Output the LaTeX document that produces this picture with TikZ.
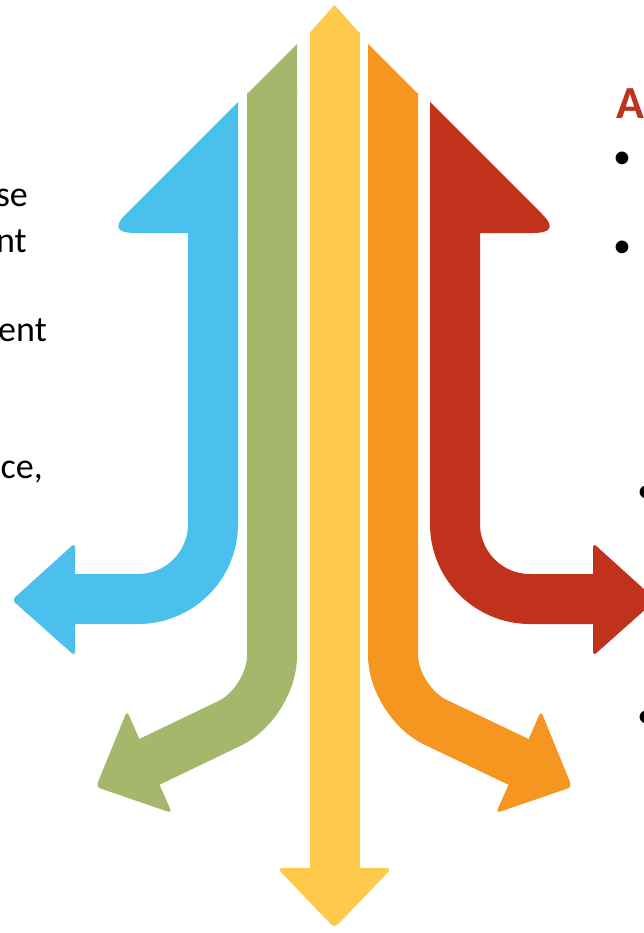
\documentclass[tikz,border=0pt]{standalone}
\usepackage{fontspec}
\setmainfont{Carlito}
\usetikzlibrary{calc}
\definecolor{arrBlue}{RGB}{76,192,237}
\definecolor{arrGreen}{RGB}{164,183,106}
\definecolor{arrYellow}{RGB}{255,201,76}
\definecolor{arrOrange}{RGB}{245,150,33}
\definecolor{arrRed}{RGB}{192,50,27}
\definecolor{paleHead}{RGB}{244,222,205}
\tikzset{
	shaft/.style={line width=50pt},
	bodytxt/.style={inner sep=0pt, font=\fontsize{36}{44}\selectfont},
	headtxt/.style={inner sep=0pt, font=\bfseries\fontsize{46}{54}\selectfont}
}

\begin{document}
\begin{tikzpicture}[x=1pt, y=-1pt]
		%%%%% START %%%%%
		
		\useasboundingbox (0, 0) rectangle (644, 933);
		\clip (0, 0) rectangle (644, 933);
		
		% blue, up and out to the left
		\fill[arrBlue] (238, 102) -- (126, 214) .. controls (112, 228) and (118, 233) .. (136, 233) -- (238, 233) -- cycle;
		\draw[shaft, arrBlue, rounded corners=75pt] (213, 232) -- (213, 599) -- (73, 599);
		\fill[arrBlue, rounded corners=4pt] (75, 543) -- (12, 600) -- (75, 656) -- cycle;
		
		% green
		\fill[arrGreen] (247, 94) -- (297, 44) -- (297, 94) -- cycle;
		\draw[shaft, arrGreen, rounded corners=47pt] (272, 93) -- (272, 703) -- (147, 763);
		\fill[arrGreen, rounded corners=4pt] (127, 711) -- (96, 787) -- (172, 813) -- cycle;
		
		% yellow, both ways
		\fill[arrYellow] (309.5, 33) -- (334.5, 5) -- (359.5, 33) -- cycle;
		\draw[shaft, arrYellow] (334.5, 32) -- (334.5, 870);
		\fill[arrYellow, rounded corners=5pt] (277, 868) -- (334.5, 928) -- (392, 868) -- cycle;
		
		% orange
		\fill[arrOrange] (368, 44) -- (418, 94) -- (368, 94) -- cycle;
		\draw[shaft, arrOrange, rounded corners=47pt] (393, 93) -- (393, 702) -- (521, 763);
		\fill[arrOrange, rounded corners=4pt] (541, 711) -- (572, 787) -- (496, 813) -- cycle;
		
		% red, up and out to the right
		\fill[arrRed] (430, 102) -- (542, 214) .. controls (556, 228) and (550, 233) .. (532, 233) -- (430, 233) -- cycle;
		\draw[shaft, arrRed, rounded corners=75pt] (455, 232) -- (455, 599) -- (595, 599);
		\fill[arrRed, rounded corners=4pt] (593, 543) -- (656, 600) -- (593, 656) -- cycle;
		
		% text cut by the left edge
		\node[bodytxt, anchor=base east] (lineA) at (28, 207) {se};
		\node[bodytxt, anchor=base east] (lineB) at (27, 252) {nt};
		\node[bodytxt, anchor=base east] (lineC) at (47, 341) {ent};
		\node[bodytxt, anchor=base east] (lineD) at (43, 478) {ce,};
		
		% text cut by the right edge
		\node[headtxt, anchor=base west, text=arrRed] (headA) at (616, 119) {A};
		\node[bodytxt, anchor=base] (bulA) at (622, 169) {•};
		\node[bodytxt, anchor=base] (bulB) at (622, 257) {•};
		\node[headtxt, anchor=base west, text=paleHead] (headB) at (642.5, 453) {I};
		\node[bodytxt, anchor=base] (bulC) at (646, 502) {•};
		\node[bodytxt, anchor=base] (bulD) at (646, 727) {•};
		
		%%%%% END %%%%%
	\end{tikzpicture}
\end{document}
